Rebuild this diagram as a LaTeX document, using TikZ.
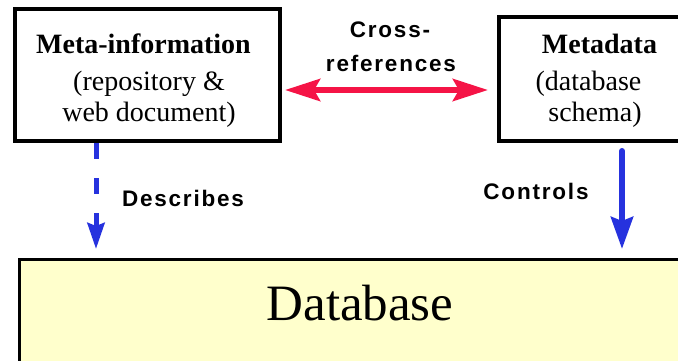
\documentclass[tikz,border=0pt]{standalone}
\usepackage{fontspec}
\setmainfont{Liberation Serif}
\newfontfamily\labfont[LetterSpace=8]{Liberation Sans}
\usetikzlibrary{arrows.meta,calc}
\definecolor{xred}{RGB}{245,20,70}
\definecolor{xblue}{RGB}{38,50,222}
\definecolor{dbfill}{RGB}{255,255,204}
\begin{document}
\begin{tikzpicture}[x=1pt,y=-1pt,
  box/.style={draw=black, line width=4pt, inner sep=0pt, fill=white},
  dbbox/.style={draw=black, line width=3pt, inner sep=0pt, fill=dbfill},
  boxtext/.style={inner sep=0pt, anchor=base, font=\fontsize{28}{32}\selectfont},
  boxtitle/.style={boxtext, font=\fontsize{28}{32}\selectfont\bfseries},
  lbl/.style={inner sep=0pt, anchor=base, font=\labfont\bfseries\fontsize{22.5}{26}\selectfont},
  rel/.style={xblue, line width=5pt},
]
\useasboundingbox (0,0) rectangle (678,360);
\clip (0,0) rectangle (678,360);
\fill[white] (0,0) rectangle (678,360);

% boxes
\node[box, minimum width=265pt, minimum height=132pt] (meta) at (147.5,75) {};
\node[box, minimum width=200pt, minimum height=124pt] (metadata) at (599,79) {};
\node[dbbox, minimum width=681pt, minimum height=200pt] (db) at (360,359.5) {};

% box texts
\node[boxtitle] (metaT) at (143.5,53) {Meta-information};
\node[boxtext] (metaA) at (149,90) {(repository \&};
\node[boxtext] (metaB) at (149,121) {web document)};
\node[boxtitle] (mdT) at (599.5,53) {Metadata};
\node[boxtext] (mdA) at (588.5,90) {(database};
\node[boxtext] (mdB) at (595,121) {schema)};
\node[inner sep=0pt, anchor=base, font=\fontsize{51}{56}\selectfont] (dbT) at (360,320) {Database};

% labels
\node[lbl] (crossA) at (390,37) {Cross-};
\node[lbl] (crossB) at (391,71) {references};
\node[lbl] (desc) at (183,206) {Describes};
\node[lbl] (ctrl) at (536,199) {Controls};

% connectors
\draw[xred, line width=6pt,
  {Stealth[length=35pt,width=22pt,inset=6pt]}-{Stealth[length=35pt,width=22pt,inset=6pt]},
  shorten <=3pt, shorten >=9pt]
  ([yshift=-15pt]meta.east) -- ([yshift=-11pt]metadata.west);
\draw[rel, dash pattern=on 16pt off 19pt,
  -{Stealth[length=26pt,width=17pt,inset=3pt]}, shorten >=9pt]
  ($(meta.south west)+(83,0)$) -- ($(db.north west)+(78,0)$);
\draw[rel, line width=6pt, line cap=round,
  -{Stealth[length=32pt,width=22pt,inset=4pt]}, shorten <=8pt, shorten >=9pt]
  ($(metadata.south west)+(125,0)$) -- ($(db.north west)+(604,0)$);
\end{tikzpicture}
\end{document}
